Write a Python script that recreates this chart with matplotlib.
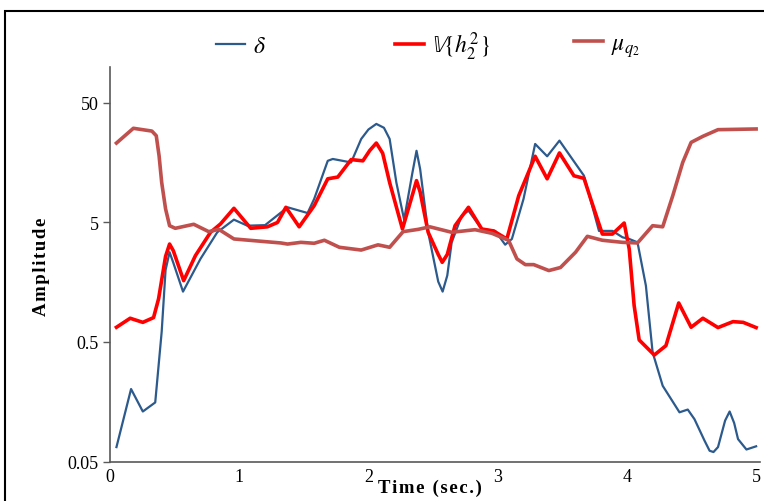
import matplotlib
matplotlib.use('Agg')
import matplotlib.pyplot as plt
from matplotlib.patches import Rectangle

plt.rcParams['font.family'] = ['Liberation Serif', 'DejaVu Serif']
plt.rcParams['mathtext.fontset'] = 'stix'

# delta
t_delta = [0.05, 0.163, 0.254, 0.35, 0.40, 0.43, 0.461, 0.49, 0.565, 0.70, 0.83, 0.959,
           1.063, 1.20, 1.374, 1.529, 1.58, 1.685, 1.724, 1.866, 1.944, 2.0, 2.061, 2.12,
           2.164, 2.216, 2.276, 2.34, 2.372, 2.40, 2.462, 2.54, 2.574, 2.61, 2.644, 2.722,
           2.774, 2.877, 2.981, 3.058, 3.11, 3.20, 3.29, 3.383, 3.478, 3.577, 3.668, 3.784,
           3.888, 3.966, 4.018, 4.082, 4.147, 4.199, 4.277, 4.407, 4.471, 4.523, 4.60, 4.64,
           4.67, 4.705, 4.76, 4.795, 4.83, 4.86, 4.925, 5.0]
delta = [0.066, 0.202, 0.131, 0.156, 0.61, 2.0, 2.82, 2.3, 1.32, 2.48, 4.14, 5.28,
         4.70, 4.75, 6.7, 6.0, 7.87, 16.4, 17.0, 15.9, 25.0, 30.0, 33.4, 31.0,
         25.0, 10.8, 5.28, 13.0, 19.9, 14.0, 4.14, 1.6, 1.32, 1.8, 3.41, 5.7,
         6.28, 4.41, 4.25, 3.26, 3.64, 7.87, 22.7, 17.9, 24.2, 17.0, 12.3, 4.25,
         4.25, 3.76, 3.64, 3.41, 1.48, 0.41, 0.215, 0.129, 0.136, 0.113, 0.075, 0.0615,
         0.06, 0.066, 0.11, 0.131, 0.105, 0.077, 0.063, 0.067]

# V{h2^2}
t_var = [0.05, 0.156, 0.254, 0.337, 0.376, 0.43, 0.461, 0.49, 0.57, 0.661, 0.778, 0.855,
         0.959, 1.089, 1.218, 1.296, 1.361, 1.464, 1.58, 1.685, 1.763, 1.866, 1.957, 2.01,
         2.061, 2.11, 2.164, 2.263, 2.34, 2.372, 2.40, 2.462, 2.54, 2.571, 2.61, 2.67,
         2.774, 2.877, 2.968, 3.071, 3.163, 3.29, 3.383, 3.478, 3.59, 3.668, 3.72, 3.81,
         3.888, 3.979, 4.018, 4.056, 4.095, 4.212, 4.302, 4.401, 4.497, 4.588, 4.705,
         4.821, 4.90, 5.0]
var = [0.664, 0.79, 0.73, 0.80, 1.15, 2.6, 3.30, 2.9, 1.63, 2.64, 4.14, 4.86,
       6.57, 4.47, 4.6, 5.0, 6.7, 4.6, 6.91, 11.6, 12.0, 16.8, 16.4, 20.0,
       23.1, 19.0, 10.8, 4.41, 8.5, 11.2, 9.0, 4.14, 2.7, 2.32, 2.7, 4.7,
       6.7, 4.41, 4.25, 3.64, 8.38, 17.9, 11.6, 19.1, 12.3, 11.7, 7.87, 4.0,
       4.0, 4.95, 3.0, 1.01, 0.52, 0.389, 0.466, 1.06, 0.664, 0.79, 0.66,
       0.74, 0.73, 0.66]

# mu_q2
t_mu = [0.05, 0.181, 0.324, 0.358, 0.38, 0.40, 0.43, 0.461, 0.505, 0.648, 0.764, 0.842,
        0.959, 1.322, 1.374, 1.477, 1.58, 1.659, 1.775, 1.944, 2.074, 2.164, 2.268, 2.385,
        2.475, 2.644, 2.825, 2.955, 3.084, 3.149, 3.214, 3.279, 3.396, 3.486, 3.603,
        3.694, 3.81, 3.966, 4.082, 4.199, 4.277, 4.355, 4.432, 4.497, 4.588, 4.705, 5.0]
mu = [23.1, 30.7, 29.1, 26.6, 18.0, 10.8, 6.5, 4.7, 4.47, 4.83, 4.19, 4.38,
      3.64, 3.37, 3.30, 3.41, 3.35, 3.55, 3.1, 2.94, 3.25, 3.1, 4.19, 4.38,
      4.6, 4.14, 4.35, 4.06, 3.55, 2.48, 2.22, 2.22, 1.98, 2.1, 2.82,
      3.83, 3.55, 3.41, 3.37, 4.7, 4.6, 8.38, 15.9, 23.4, 26.3, 29.9, 30.3]

labels = [r'$\delta$', r'$\mathbb{V}\{h_2^2\}$', r'$\mu_{q_2}$']
colors = ['#2C5A8C', '#FF0000', '#C0504D']

fig = plt.figure(figsize=(7.64, 5.02), dpi=100)
ax = fig.add_axes([110/764, 1 - 462.5/502, 650/764, (462.5 - 68)/502])

l1, = ax.plot(t_delta, delta, color=colors[0], lw=1.6)
l2, = ax.plot(t_var, var, color=colors[1], lw=2.6)
l3, = ax.plot(t_mu, mu, color=colors[2], lw=2.6)

ax.set_yscale('log')
ax.set_ylim(0.05, 100)
ax.set_xlim(0, 5.03)
ax.set_yticks([0.05, 0.5, 5, 50])
ax.set_yticklabels(['0.05', '0.5', '5', '50'])
ax.yaxis.set_minor_locator(matplotlib.ticker.NullLocator())
ax.set_xticks([0, 1, 2, 3, 4, 5])
ax.set_xticklabels(['0', '1', '2', '3', '4', '5'])
ax.tick_params(axis='y', length=5, width=1, color='#595959', labelsize=13, pad=3)
ax.tick_params(axis='x', length=0, labelsize=13, pad=5)
for s in ['top', 'right']:
    ax.spines[s].set_visible(False)
for s in ['left', 'bottom']:
    ax.spines[s].set_color('#595959')
    ax.spines[s].set_linewidth(1.2)

# axis titles are letter-spaced in the original
fig.text(41/764, 1 - 267/502, '\u200a'.join('Amplitude'), rotation=90, ha='center',
         va='center', fontsize=13.5, fontweight='bold')
fig.text(430/764, 1 - 488/502, '\u200a'.join('Time (sec.)'), ha='center', va='center',
         fontsize=13.5, fontweight='bold')

# legend entries placed separately to keep the original spacing
for line, lab, x0 in zip([l1, l2, l3], labels, [213, 392, 571]):
    fig.legend([line], [lab], loc='center left', bbox_to_anchor=(x0/764 - 0.024, 1 - 47/502),
               frameon=False, fontsize=17, handlelength=1.25, handletextpad=0.3)

# outer frame
fig.patches.append(Rectangle((5/764, -0.1), 1.1, 1.1 - 12/502, transform=fig.transFigure,
                             fill=False, edgecolor='black', lw=1.5))

fig.savefig('out.png', dpi=100)
